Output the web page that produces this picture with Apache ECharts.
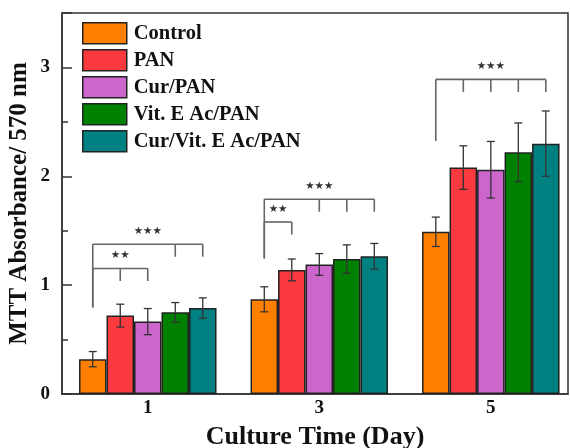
<!DOCTYPE html>
<html><head><meta charset="utf-8">
<script src="https://cdn.jsdelivr.net/npm/echarts@6/dist/echarts.min.js"></script>
<style>html,body{margin:0;padding:0;background:#fff}#c{width:570px;height:448px}</style>
</head><body><div id="c"></div>
<script>
const days = [1, 3, 5];
const seriesNames = ['Control', 'PAN', 'Cur/PAN', 'Vit. E Ac/PAN', 'Cur/Vit. E Ac/PAN'];
const colors = ['#FF8000', '#FA3A3E', '#CC66CC', '#008000', '#008080'];
const control = [0.32, 0.87, 1.49];
const controlErr = [0.07, 0.115, 0.135];
const pan = [0.72, 1.14, 2.08];
const panErr = [0.105, 0.10, 0.20];
const curPan = [0.665, 1.19, 2.06];
const curPanErr = [0.12, 0.10, 0.26];
const vitPan = [0.75, 1.24, 2.22];
const vitPanErr = [0.09, 0.13, 0.27];
const curVitPan = [0.79, 1.265, 2.30];
const curVitPanErr = [0.093, 0.118, 0.30];
const yTicks = [0, 1, 2, 3];
// significance brackets: day, bar indices (first is anchor), level of horizontal line, bottom of anchor line, stars
const brackets = [
  {day: 1, bars: [0, 3, 4], top: 1.376, leftEnd: 0.795, label: '★★★'},
  {day: 1, bars: [0, 1, 2], top: 1.153, leftEnd: 0.795, label: '★★'},
  {day: 3, bars: [0, 2, 3, 4], top: 1.789, leftEnd: 1.245, label: '★★★'},
  {day: 3, bars: [0, 1], top: 1.58, leftEnd: 1.245, label: '★★'},
  {day: 5, bars: [0, 1, 2, 3, 4], top: 2.89, leftEnd: 2.324, label: '★★★'}
];

const values = [control, pan, curPan, vitPan, curVitPan];
const errs = [controlErr, panErr, curPanErr, vitPanErr, curVitPanErr];
const BAR_W = 27.5;
const FONT = 'Liberation Serif, Times New Roman, serif';
const off = i => (i - (seriesNames.length - 1) / 2) * BAR_W;

const barSeries = seriesNames.map((name, s) => ({
  name, type: 'bar', barWidth: BAR_W, barGap: '0%',
  itemStyle: {color: colors[s], borderColor: '#222', borderWidth: 1.5},
  data: days.map((d, k) => [d, values[s][k]]),
  z: 2
}));

const errData = [];
values.forEach((arr, s) => arr.forEach((v, k) => errData.push([days[k], v, errs[s][k], s])));

const errSeries = {
  type: 'custom', clip: false, z: 5,
  data: errData,
  renderItem: (params, api) => {
    const d = api.value(0), v = api.value(1), e = api.value(2), s = api.value(3);
    const hi = api.coord([d, v + e]), lo = api.coord([d, v - e]);
    const x = hi[0] + off(s), cap = 4;
    const st = {stroke: '#333', lineWidth: 1.3};
    return {type: 'group', children: [
      {type: 'line', shape: {x1: x, y1: hi[1], x2: x, y2: lo[1]}, style: st},
      {type: 'line', shape: {x1: x - cap, y1: hi[1], x2: x + cap, y2: hi[1]}, style: st},
      {type: 'line', shape: {x1: x - cap, y1: lo[1], x2: x + cap, y2: lo[1]}, style: st}
    ]};
  }
};

const brSeries = {
  type: 'custom', clip: false, z: 5,
  data: brackets.map((b, i) => [b.day, b.top, b.leftEnd, i]),
  renderItem: (params, api) => {
    const b = brackets[api.value(3)];
    const top = api.coord([b.day, b.top]);
    const bot = api.coord([b.day, b.leftEnd]);
    const x0 = top[0] + off(b.bars[0]);
    const xs = b.bars.slice(1).map(i => top[0] + off(i));
    const x1 = xs[xs.length - 1];
    const st = {stroke: '#666', lineWidth: 1.6};
    const ch = [
      {type: 'line', shape: {x1: x0, y1: top[1], x2: x0, y2: bot[1]}, style: st},
      {type: 'line', shape: {x1: x0, y1: top[1], x2: x1, y2: top[1]}, style: st}
    ];
    xs.forEach(x => ch.push({type: 'line', shape: {x1: x, y1: top[1], x2: x, y2: top[1] + 12.5}, style: st}));
    ch.push({type: 'text', style: {text: b.label, x: (x0 + x1) / 2, y: top[1] - 13, align: 'center', verticalAlign: 'middle', fontSize: 10.5, fill: '#333', fontFamily: 'DejaVu Sans'}});
    return {type: 'group', children: ch};
  }
};

const chart = echarts.init(document.getElementById('c'));
chart.setOption({
  animation: false,
  grid: {left: 62, right: 2, top: 13, bottom: 54, show: true, borderColor: '#333', borderWidth: 1.5, containLabel: false, outerBoundsMode: 'none'},
  legend: {
    data: seriesNames, orient: 'vertical', left: 82, top: 22, padding: 0,
    itemWidth: 44, itemHeight: 21, itemGap: 4.5, icon: 'rect',
    textStyle: {fontFamily: FONT, fontWeight: 'bold', fontSize: 20.5, lineHeight: 21, color: '#111', padding: [0, 0, 0, 2]},
    itemStyle: {borderColor: '#222', borderWidth: 1.5}
  },
  xAxis: {
    type: 'value', min: 0, max: 5.9, interval: 1,
    name: 'Culture Time (Day)', nameLocation: 'middle', nameGap: 30,
    nameTextStyle: {fontFamily: FONT, fontWeight: 'bold', fontSize: 26, color: '#111'},
    axisLine: {lineStyle: {color: '#333', width: 1.5}},
    axisTick: {show: false}, splitLine: {show: false},
    axisLabel: {
      margin: 5, fontFamily: FONT, fontWeight: 'bold', fontSize: 19, color: '#111',
      formatter: v => days.indexOf(v) >= 0 ? String(v) : ''
    }
  },
  yAxis: {
    type: 'value', min: 0, max: 3.5, interval: 1,
    name: 'MTT Absorbance/ 570 nm', nameLocation: 'middle', nameGap: 30, nameMoveOverlap: false,
    nameTextStyle: {fontFamily: FONT, fontWeight: 'bold', fontSize: 25, color: '#111'},
    axisLine: {show: true, lineStyle: {color: '#333', width: 1.5}},
    axisTick: {inside: true, length: 10, lineStyle: {color: '#333', width: 1.5}},
    minorTick: {show: true, splitNumber: 2, length: 6, lineStyle: {color: '#333', width: 1.5}},
    splitLine: {show: false},
    axisLabel: {
      margin: 12, fontFamily: FONT, fontWeight: 'bold', fontSize: 19, color: '#111',
      formatter: v => yTicks.indexOf(v) >= 0 ? String(v) : ''
    }
  },
  series: [...barSeries, errSeries, brSeries]
});
</script></body></html>
